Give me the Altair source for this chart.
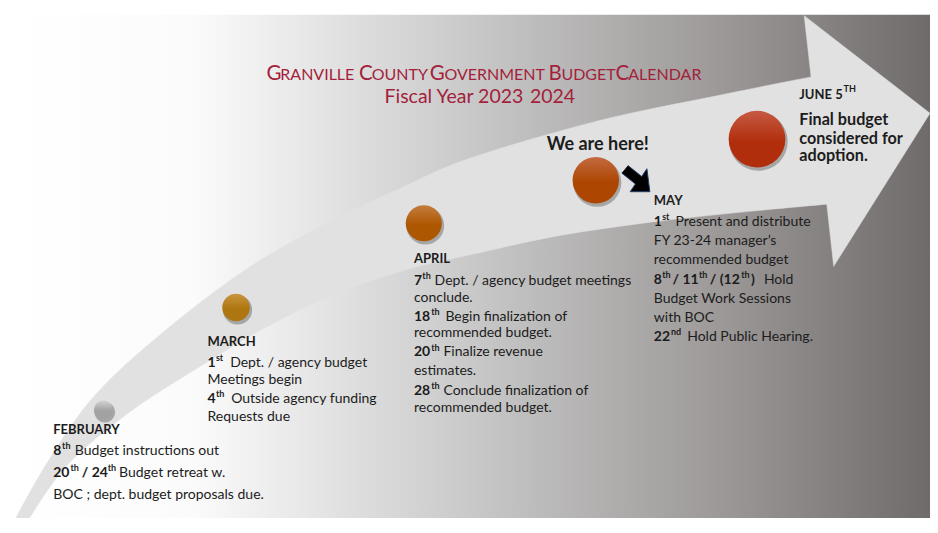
import altair as alt
import pandas as pd
import math

# ---------------- reference frame ----------------
REF_W, REF_H = 938, 533
W, H = 922, 510
sx, sy = W / REF_W, H / REF_H
sc = (sx + sy) / 2

# ---------------- shapes ----------------
bg_x = [0, 938]
bg_y = [7, 533]

band_upper_x = [8, 43, 90, 160, 247, 330, 400, 470, 600, 720, 817, 848]
band_upper_y = [533, 470, 403, 337, 270, 222, 188, 157, 118, 92, 72, 67]
band_lower_x = [848, 833, 760, 660, 560, 470, 400, 330, 260, 187, 120, 60, 22]
band_lower_y = [203, 205, 212, 223, 238, 258, 275, 300, 335, 380, 425, 478, 533]

head_x = [817, 810, 938, 840, 833]
head_y = [72, 8, 110, 270, 205]

pointer_x = [630.7, 644.7, 650, 653, 633, 638.3, 624.3]
pointer_y = [164.6, 176.1, 168, 192, 192, 183.9, 172.4]

# milestones
circ_month = ["February", "March", "April", "May", "June"]
circ_x = [97, 232, 423, 598, 762]
circ_y = [420, 313, 225, 180, 137]
circ_r = [11, 16, 21, 27, 33]
circ_top = ["#d2d2d2", "#c9953f", "#c47c3e", "#c46a40", "#c75a44"]
circ_bot = ["#a2a2a2", "#ae7610", "#ad5700", "#ac4600", "#b02e0c"]

# ---------------- texts ----------------
# (x, baseline y, text, style)
title_segs = [
    (263, 75, "G", "T1"), (277, 75, "RANVILLE", "T2"),
    (357, 75, "C", "T1"), (370, 75, "OUNTY", "T2"),
    (429, 75, "G", "T1"), (444, 75, "OVERNMENT", "T2"),
    (550, 75, "B", "T1"), (563, 75, "UDGET", "T2"),
    (618, 75, "C", "T1"), (631, 75, "ALENDAR", "T2"),
    (383, 99, "Fiscal Year 2023", "F"), (531, 99, "2024", "F"),
]

feb_segs = [
    (46, 445, "FEBRUARY", "h"),
    (46, 467, "8", "b"), (55, 461, "th", "s"), (68, 467, "Budget instructions out", "n"),
    (46, 490, "20", "b"), (63.5, 484, "th", "s"), (75, 490, "/ 24", "b"), (101.5, 484, "th", "s"),
    (113, 490, "Budget retreat w.", "n"),
    (46, 513, "BOC ; dept. budget proposals due.", "n"),
]
mar_segs = [
    (203, 353, "MARCH", "h"),
    (203, 375, "1", "b"), (211.5, 369, "st", "s"), (226, 375, "Dept. / agency budget", "n"),
    (203, 393, "Meetings begin", "n"),
    (203, 413, "4", "b"), (211.5, 407, "th", "s"), (227, 413, "Outside agency funding", "n"),
    (203, 432, "Requests due", "n"),
]
apr_segs = [
    (413, 267, "APRIL", "h"),
    (413, 289, "7", "b"), (421.5, 283, "th", "s"), (434, 289, "Dept. / agency budget meetings", "n"),
    (413, 307, "conclude.", "n"),
    (413, 327, "18", "b"), (430.5, 321, "th", "s"), (445, 327, "Begin finalization of", "n"),
    (413, 344, "recommended budget.", "n"),
    (413, 364, "20", "b"), (430.5, 358, "th", "s"), (443, 364, "Finalize revenue", "n"),
    (413, 384, "estimates.", "n"),
    (413, 404, "28", "b"), (430.5, 398, "th", "s"), (443, 404, "Conclude finalization of", "n"),
    (413, 422, "recommended budget.", "n"),
]
may_segs = [
    (657, 206, "MAY", "h"),
    (657, 228, "1", "b"), (665.5, 222, "st", "s"), (679, 228, "Present and distribute", "n"),
    (657, 248, "FY 23-24 manager\u2019s", "n"),
    (657, 268, "recommended budget", "n"),
    (657, 288, "8", "b"), (665.5, 282, "th", "s"), (676, 288, "/ 11", "b"), (703, 282, "th", "s"),
    (714, 288, "/ (12", "b"), (746, 282, "th", "s"), (756, 288, ")", "b"), (769, 288, "Hold", "n"),
    (657, 308, "Budget Work Sessions", "n"),
    (657, 328, "with BOC", "n"),
    (657, 348, "22", "b"), (674.5, 342, "nd", "s"), (691, 348, "Hold Public Hearing.", "n"),
]
jun_segs = [
    (805, 95, "JUNE 5", "J"), (850, 88, "TH", "s"),
    (805, 122, "Final budget", "K"),
    (805, 142, "considered for", "K"),
    (805, 160, "adoption.", "K"),
]
here_segs = [(548, 148, "We are here!", "W")]

style_size = {"T1": 20.5, "T2": 16, "F": 19.5, "h": 13, "b": 14, "n": 14, "s": 9,
              "J": 13, "K": 16.2, "W": 18}
style_bold = {"T1": False, "T2": False, "F": False, "h": True, "b": True, "n": False, "s": True,
              "J": True, "K": True, "W": True}
TEXT_COLOR = "#1c1c1c"
TITLE_COLOR = "#a31f3b"

# ---------------- scales ----------------
xs = alt.Scale(domain=[0, REF_W], nice=False, zero=False)
ys = alt.Scale(domain=[0, REF_H], nice=False, zero=False, reverse=True)


def X(f="x"):
    return alt.X(f"{f}:Q", scale=xs, axis=None)


def Y(f="y"):
    return alt.Y(f"{f}:Q", scale=ys, axis=None)


def grad(stops, vertical=False):
    return {
        "gradient": "linear",
        "stops": [{"offset": o, "color": c} for o, c in stops],
        "x1": 0, "y1": 0,
        "x2": 0 if vertical else 1,
        "y2": 1 if vertical else 0,
    }


layers = []

# background gradient panel
bg = pd.DataFrame({"x": [bg_x[0]], "x2": [bg_x[1]], "y": [bg_y[0]], "y2": [bg_y[1]]})
layers.append(
    alt.Chart(bg).mark_rect(
        color=grad([(0, "#ffffff"), (0.2, "#fbfbfb"), (0.33, "#e6e6e6"), (0.5, "#c9c9c9"),
                    (0.75, "#a09d9c"), (1, "#6f6b6a")])
    ).encode(x=X("x"), x2=alt.X2("x2"), y=Y("y"), y2=alt.Y2("y2"))
)


def polygon(xv, yv, fill, stroke=None, sw=0, interp="linear"):
    df = pd.DataFrame({"x": xv, "y": yv, "o": list(range(len(xv)))})
    kw = dict(fill=fill, interpolate=interp)
    if stroke:
        kw.update(stroke=stroke, strokeWidth=sw)
    else:
        kw.update(stroke=fill, strokeWidth=0.5)
    return alt.Chart(df).mark_line(**kw).encode(x=X(), y=Y(), order=alt.Order("o:Q"))


BAND = "#e1e1e1"
layers.append(polygon(band_upper_x + band_lower_x, band_upper_y + band_lower_y, BAND,
                      interp="cardinal"))
layers.append(polygon(head_x, head_y, BAND))

# milestone circles: shadow + gradient disc
for i in range(len(circ_x)):
    r = circ_r[i] * sc
    sh = pd.DataFrame({"x": [circ_x[i] + 1.5], "y": [circ_y[i] + 2.5]})
    layers.append(
        alt.Chart(sh).mark_point(filled=True, shape="circle", color="#3a3a3a", opacity=0.35,
                                 size=math.pi * (r + 1) ** 2).encode(x=X(), y=Y())
    )
    d = pd.DataFrame({"x": [circ_x[i]], "y": [circ_y[i]], "m": [circ_month[i]]})
    layers.append(
        alt.Chart(d).mark_point(filled=True, shape="circle", opacity=1,
                                fill=grad([(0, circ_top[i]), (0.55, circ_bot[i]), (1, circ_bot[i])],
                                          vertical=True),
                                size=math.pi * r ** 2, strokeWidth=0).encode(x=X(), y=Y())
    )

# "we are here" pointer
layers.append(polygon(pointer_x, pointer_y, "#000000", stroke="#23406a", sw=1))

# texts
all_segs = title_segs + feb_segs + mar_segs + apr_segs + may_segs + jun_segs + here_segs
tdf = pd.DataFrame(all_segs, columns=["x", "y", "t", "st"])
tdf["size"] = tdf["st"].map(style_size)
tdf["bold"] = tdf["st"].map(style_bold)
tdf["col"] = [TITLE_COLOR if s in ("T1", "T2", "F") else TEXT_COLOR for s in tdf["st"]]

for bold in (False, True):
    sub = tdf[tdf["bold"] == bold]
    layers.append(
        alt.Chart(sub).mark_text(align="left", baseline="alphabetic", font="Lato",
                                 fontWeight="bold" if bold else "normal").encode(
            x=X(), y=Y(), text="t:N",
            size=alt.Size("size:Q", scale=None, legend=None),
            color=alt.Color("col:N", scale=None, legend=None),
        )
    )

chart = alt.layer(*layers).properties(
    width=W, height=H, padding=0, autosize=alt.AutoSizeParams(type="none")
).configure_view(stroke=None)

chart.save("out.html", embed_options={"renderer": "svg", "actions": False})
